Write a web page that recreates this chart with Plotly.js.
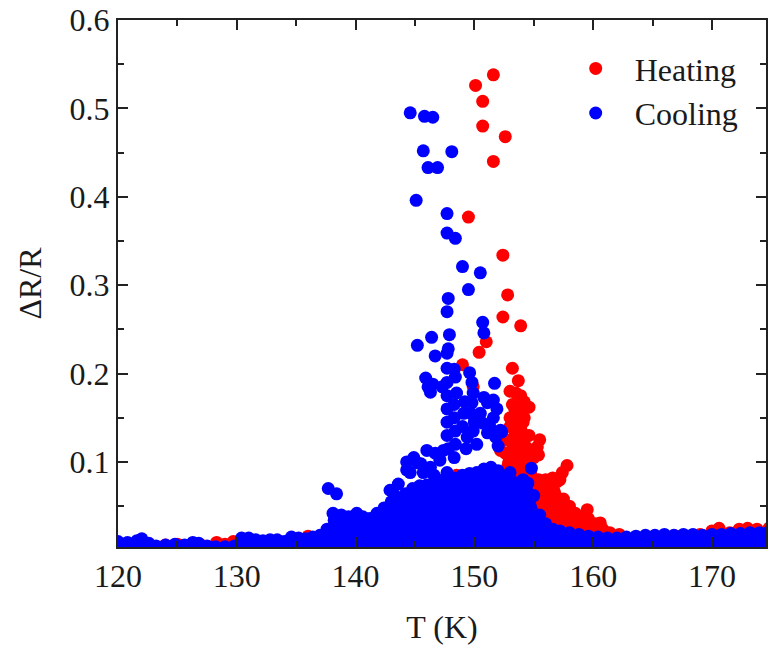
<!DOCTYPE html>
<html>
<head>
<meta charset="utf-8">
<script src="https://cdn.plot.ly/plotly-3.0.1.min.js"></script>
<style>html,body{margin:0;padding:0;background:#fff;}#chart{width:768px;height:654px;}</style>
</head>
<body>
<div id="chart"></div>
<script>
// Heating (red) — dense base envelope (T, ΔR/R)
const heatBaseT = [120,122,124,125,126,127,128.3,129,129.7,131,133,135,136,137,138,140,142,144,146,148,149,150,151,152,152.6,153.0,153.4,153.8,154.2,154.6,155.0,155.4,156.0,156.6,157.0,157.5,158.0,158.5,159.0,159.6,160.2,160.8,161.4,162.2,163.5,165,167,169,170,170.6,171.5,172.3,173,173.8,174.8];
const heatBaseY = [0.006,0.007,0.006,0.007,0.005,0.006,0.009,0.007,0.010,0.010,0.010,0.012,0.016,0.015,0.020,0.025,0.030,0.040,0.050,0.060,0.070,0.075,0.080,0.085,0.110,0.140,0.160,0.160,0.150,0.130,0.105,0.080,0.080,0.082,0.078,0.058,0.050,0.042,0.038,0.036,0.030,0.024,0.020,0.018,0.014,0.015,0.016,0.018,0.022,0.025,0.020,0.024,0.025,0.024,0.025];
// Heating (red) — scattered points
const heatT = [151.6,150.1,150.7,150.7,152.6,151.6,149.5,152.4,152.8,152.4,153.9,151.0,150.4,149.0,153.2,153.7,149.9,153.0,153.5,153.9,154.2,154.6,153.2,153.8,153.0,154.1,154.0,155.5,155.3,155.4,157.8,157.4,157.2,148.5,152.2,159.5,160.6,152.7,152.9,154.5];
const heatY = [0.538,0.526,0.508,0.480,0.468,0.440,0.377,0.334,0.289,0.264,0.254,0.236,0.224,0.210,0.206,0.192,0.185,0.180,0.178,0.175,0.168,0.162,0.165,0.158,0.150,0.145,0.133,0.125,0.117,0.108,0.096,0.088,0.080,0.085,0.113,0.046,0.031,0.125,0.100,0.115];

// Cooling (blue) — dense base envelope
const coolBaseT = [120.0,120.8,121.6,122.0,122.6,123.2,124.0,124.8,125.6,126.3,126.8,127.5,128.2,129.0,129.8,130.4,131.0,131.6,132.2,132.8,133.4,134.0,134.6,135.2,135.8,136.4,137.0,137.6,138.2,138.8,139.4,140.0,140.6,141.2,141.8,142.4,143.0,143.6,144.2,144.8,145.4,146.0,146.6,147.2,147.8,148.4,149.0,149.6,150.2,150.8,151.4,152.0,152.6,153.2,153.8,154.4,155.0,155.5,156.0,156.6,157.2,158.0,158.8,159.6,160.4,161.2,162.0,162.8,163.6,164.4,165.2,166.0,166.8,167.6,168.4,169.2,170.0,170.8,171.6,172.4,173.2,174.0,174.8];
const coolBaseY = [0.010,0.009,0.011,0.013,0.008,0.005,0.006,0.007,0.006,0.009,0.008,0.005,0.004,0.004,0.005,0.014,0.014,0.012,0.011,0.012,0.012,0.010,0.015,0.014,0.013,0.015,0.017,0.024,0.034,0.040,0.038,0.040,0.038,0.036,0.042,0.048,0.055,0.058,0.064,0.070,0.073,0.074,0.077,0.079,0.080,0.082,0.085,0.087,0.088,0.092,0.094,0.090,0.084,0.078,0.072,0.068,0.062,0.040,0.030,0.024,0.022,0.020,0.018,0.016,0.015,0.014,0.014,0.015,0.016,0.017,0.017,0.018,0.017,0.018,0.018,0.017,0.018,0.018,0.019,0.019,0.020,0.020,0.021];
// Cooling (blue) — scattered points
const coolT = [144.6,145.8,146.5,145.7,148.1,146.1,146.9,145.1,147.7,147.7,148.4,149.0,150.5,149.5,147.8,147.7,150.7,150.8,147.9,146.4,145.2,147.8,146.7,147.7,147.7,148.4,149.6,151.7,146.1,146.3,147.7,147.7,147.7,147.7,147.7,147.8,149.9,149.8,150.5,151.1,151.6,150.7,151.1,152.2,149.0,149.4,146.0,145.2,144.6,146.3,147.1,147.4,143.1,143.5,153.0,154.8,154.5,137.7,138.4,138.1,140.1,141.8,149.7,150.0,149.9,151.3,151.8,152.3,154.1,144.3,145.7,142.9,147.7,148.2,144.3,144.9,145.5,146.0,146.6,143.6,147.3,148.3,148.5,148.3,148.3,148.4,148.4,148.3,149.2,149.1,149.3,150.2,150.8,151.9,151.6,152.0,145.9,146.5,146.7,149.8];
const coolY = [0.495,0.491,0.490,0.452,0.451,0.433,0.433,0.396,0.381,0.359,0.353,0.321,0.314,0.295,0.285,0.270,0.258,0.246,0.244,0.241,0.232,0.228,0.220,0.223,0.206,0.196,0.201,0.189,0.185,0.179,0.190,0.175,0.160,0.145,0.130,0.115,0.178,0.167,0.155,0.167,0.170,0.144,0.133,0.136,0.140,0.128,0.113,0.099,0.088,0.094,0.102,0.113,0.068,0.060,0.088,0.093,0.076,0.070,0.064,0.042,0.042,0.038,0.155,0.145,0.135,0.140,0.128,0.134,0.080,0.091,0.088,0.068,0.088,0.080,0.100,0.105,0.098,0.090,0.085,0.075,0.185,0.205,0.178,0.165,0.150,0.135,0.120,0.105,0.168,0.155,0.115,0.120,0.173,0.160,0.150,0.118,0.195,0.188,0.110,0.190];

const RED = '#ff0000', BLUE = '#0000ff';
const FONT = 'Liberation Serif';
const MS = 13;

const traces = [
  {x: heatBaseT, y: heatBaseY, type: 'scatter', mode: 'lines+markers', fill: 'tozeroy',
   fillcolor: RED, line: {color: RED, width: 0}, marker: {color: RED, size: MS},
   showlegend: false, hoverinfo: 'skip'},
  {x: heatT, y: heatY, type: 'scatter', mode: 'markers', name: 'Heating',
   marker: {color: RED, size: MS}},
  {x: coolBaseT, y: coolBaseY, type: 'scatter', mode: 'lines+markers', fill: 'tozeroy',
   fillcolor: BLUE, line: {color: BLUE, width: 0}, marker: {color: BLUE, size: MS},
   showlegend: false, hoverinfo: 'skip'},
  {x: coolT, y: coolY, type: 'scatter', mode: 'markers', name: 'Cooling',
   marker: {color: BLUE, size: MS}}
];

const axisCommon = {
  showgrid: false, zeroline: false, showline: true, linecolor: '#222', linewidth: 2,
  mirror: 'ticks', ticks: 'inside', ticklen: 10, tickwidth: 2, tickcolor: '#222',
  tickfont: {family: FONT, size: 32, color: '#1a1a1a'},
  minor: {ticks: 'inside', ticklen: 6, tickwidth: 2, tickcolor: '#222'}
};

const layout = {
  width: 768, height: 654,
  margin: {l: 118, r: 2, t: 20, b: 107},
  paper_bgcolor: '#fff', plot_bgcolor: '#fff',
  font: {family: FONT, size: 32, color: '#1a1a1a'},
  xaxis: Object.assign({}, axisCommon, {
    range: [120, 174.55], tick0: 0, dtick: 10,
    minor: Object.assign({}, axisCommon.minor, {dtick: 5}),
    title: {text: 'T (K)', font: {family: FONT, size: 32}, standoff: 22}
  }),
  yaxis: Object.assign({}, axisCommon, {
    range: [0.0038, 0.6], tick0: 0, dtick: 0.1, tickformat: '.1f',
    minor: Object.assign({}, axisCommon.minor, {dtick: 0.05}),
    title: {text: 'ΔR/R', font: {family: FONT, size: 32}, standoff: 18}
  }),
  legend: {x: 0.677, y: 0.96, xanchor: 'left', yanchor: 'top', bgcolor: 'rgba(0,0,0,0)',
    font: {family: FONT, size: 32}, itemwidth: 68, tracegroupgap: 0},
  showlegend: true
};

Plotly.newPlot('chart', traces, layout, {staticPlot: true, displayModeBar: false});
</script>
</body>
</html>
